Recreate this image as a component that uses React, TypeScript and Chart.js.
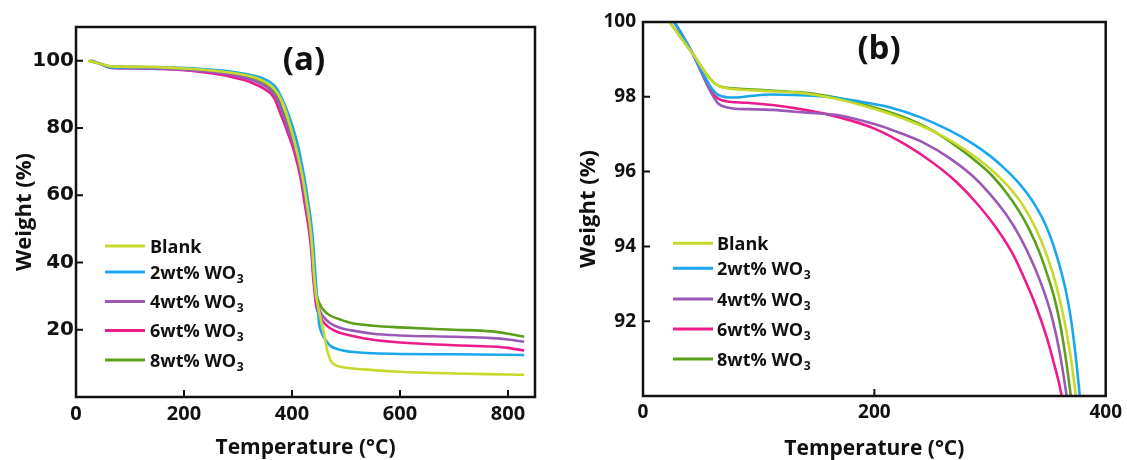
import React, { useEffect, useRef } from 'react';
import { Chart, registerables } from 'chart.js';

Chart.register(...registerables);

// ---------------- data ----------------
const seriesNames = ['Blank', '2wt% WO', '4wt% WO', '6wt% WO', '8wt% WO'];
const seriesSubs = ['', '3', '3', '3', '3'];
const seriesColors = ['#c8d92b', '#1aa7ec', '#9b59b6', '#ec1c8c', '#5b9f1a'];

const blankT = [23, 30, 43, 55, 60, 65, 72, 80, 90, 110, 130, 150, 170, 190, 210, 230, 256, 280, 300, 315, 328, 340, 348, 356, 363, 369, 373, 377, 385, 395, 409, 420, 428, 434, 438, 441, 444, 447, 452, 458, 465, 471, 480, 490, 500, 550, 600, 700, 800, 830];
const blankW = [100, 99.7, 99.15, 98.6, 98.42, 98.3, 98.23, 98.2, 98.18, 98.15, 98.12, 98.05, 97.93, 97.77, 97.58, 97.36, 97.0, 96.55, 96.08, 95.63, 95.12, 94.45, 93.85, 93.1, 92.2, 91.2, 90.3, 89.3, 86.5, 81.5, 73, 65, 57, 50, 43, 36, 31, 28, 24, 20, 14, 11, 9.5, 9, 8.7, 8, 7.5, 7, 6.7, 6.6];

const wo2T = [27, 33, 43, 55, 60, 65, 72, 80, 95, 110, 130, 150, 170, 190, 213, 240, 265, 285, 300, 312, 323, 332, 340, 348, 354, 360, 366, 370, 373, 377, 382, 390, 400, 412, 422, 430, 436, 440, 443, 446, 448, 450, 455, 462, 471, 490, 520, 550, 600, 700, 830];
const wo2W = [100, 99.7, 99.15, 98.45, 98.2, 98.05, 97.99, 97.98, 98.03, 98.06, 98.05, 98.02, 97.96, 97.86, 97.72, 97.45, 97.1, 96.75, 96.42, 96.1, 95.76, 95.42, 95.05, 94.58, 94.1, 93.5, 92.75, 92.05, 91.35, 90.2, 88.5, 85.5, 81, 74, 66, 58, 51, 44, 37, 30, 26, 22, 19, 17, 15.2, 14, 13.3, 13, 12.8, 12.7, 12.5];

const wo4T = [27, 33, 43, 55, 60, 65, 72, 80, 90, 112, 140, 170, 200, 220, 242, 265, 285, 300, 314, 326, 337, 346, 354, 360, 366, 372, 382, 393, 407, 418, 426, 433, 437, 440, 443, 446, 452, 458, 470, 490, 510, 550, 600, 700, 770, 800, 830];
const wo4W = [100, 99.7, 99.15, 98.35, 98.05, 97.82, 97.72, 97.68, 97.67, 97.65, 97.58, 97.5, 97.27, 97.06, 96.78, 96.36, 95.88, 95.4, 94.85, 94.25, 93.55, 92.85, 92.05, 91.2, 90.05, 88.7, 84.5, 79.5, 73, 65, 57, 50, 43, 36, 31, 28.5, 25.5, 23.9, 22, 20.5, 19.8, 18.8, 18.3, 17.9, 17.5, 17.1, 16.4];

const wo6T = [27, 33, 43, 55, 60, 65, 72, 90, 112, 140, 170, 200, 227, 250, 271, 290, 308, 320, 331, 340, 348.5, 355, 361.5, 368, 378, 390, 404, 416, 424, 431, 436, 439, 442, 445, 452, 458, 470, 490, 510, 550, 600, 700, 770, 800, 830];
const wo6W = [100, 99.7, 99.15, 98.38, 98.1, 97.95, 97.88, 97.84, 97.78, 97.65, 97.45, 97.15, 96.72, 96.25, 95.72, 95.1, 94.38, 93.78, 93.05, 92.38, 91.62, 90.9, 90.07, 88.6, 84.5, 79.5, 73, 65, 57, 50, 43, 36, 31, 27, 24, 22.3, 20.5, 19, 18.2, 17, 16.2, 15.4, 15, 14.6, 13.8];

const wo8T = [23, 30, 43, 55, 60, 65, 72, 80, 90, 110, 130, 150, 170, 190, 210, 230, 250, 270, 285, 300, 313, 325, 334, 343, 350, 357, 363, 369, 373, 384, 395, 409, 420, 428, 434, 438, 441, 444, 447, 452, 458, 470, 490, 510, 550, 600, 700, 770, 800, 830];
const wo8W = [100, 99.7, 99.15, 98.6, 98.42, 98.3, 98.24, 98.22, 98.2, 98.17, 98.13, 98.07, 97.96, 97.8, 97.62, 97.4, 97.1, 96.7, 96.35, 95.95, 95.48, 94.95, 94.45, 93.82, 93.2, 92.45, 91.5, 90.2, 89.1, 84.5, 79.5, 73, 65, 57, 50, 43, 36, 32, 29.5, 27.5, 25.9, 24.3, 23, 22, 21.2, 20.7, 20, 19.5, 18.8, 17.9];

const seriesT = [blankT, wo2T, wo4T, wo6T, wo8T];
const seriesW = [blankW, wo2W, wo4W, wo6W, wo8W];

const xTicksA = [0, 200, 400, 600, 800];
const yTicksA = [20, 40, 60, 80, 100];
const xTicksB = [0, 200, 400];
const yTicksB = [92, 94, 96, 98, 100];

const xTitle = 'Temperature (°C)';
const yTitle = 'Weight (%)';

// ---------------- layout ----------------
type PanelCfg = {
  label: string;
  width: number;
  xMin: number; xMax: number; yMin: number; yMax: number;
  xTicks: number[]; yTicks: number[];
  padRight: number; padTop: number; yAxisW: number; xAxisH: number;
  yTickFont: any; xTickFont: any; yTickPad: number; xTickPad: number;
  labelPos: [number, number];
  xTitleY: number; yTitleX: number; yTitleSize: number; xTitleSize: number;
  legendLineX: [number, number]; legendTextX: number; legendRows: number[];
};

const TXT = "'Open Sans', 'Liberation Sans', sans-serif";

const panelA: PanelCfg = {
  label: '(a)', width: 560,
  xMin: 0, xMax: 850, yMin: 0, yMax: 110,
  xTicks: xTicksA, yTicks: yTicksA,
  padRight: 25, padTop: 27, yAxisW: 76, xAxisH: 63,
  yTickFont: { family: "'DejaVu Sans'", size: 20, weight: 'bold' },
  xTickFont: { family: TXT, size: 20, weight: 'bold' },
  yTickPad: 2, xTickPad: 5,
  labelPos: [304, 61],
  xTitleY: 454, yTitleX: 31, yTitleSize: 22, xTitleSize: 21,
  legendLineX: [105, 145], legendTextX: 150, legendRows: [246, 272, 301.5, 330.5, 360],
};

const panelB: PanelCfg = {
  label: '(b)', width: 567,
  xMin: 0, xMax: 400, yMin: 90, yMax: 100,
  xTicks: xTicksB, yTicks: yTicksB,
  padRight: 21, padTop: 22, yAxisW: 83, xAxisH: 64,
  yTickFont: { family: TXT, size: 19, weight: 'bold' },
  xTickFont: { family: TXT, size: 19, weight: 'bold' },
  yTickPad: 7, xTickPad: 5,
  labelPos: [319, 50],
  xTitleY: 455, yTitleX: 35, yTitleSize: 22, xTitleSize: 21,
  legendLineX: [113, 153], legendTextX: 157, legendRows: [243.3, 268.3, 299, 329, 359],
};

function decorPlugin(p: PanelCfg) {
  return {
    id: 'decor',
    afterDatasetsDraw(chart: any) {
      const { ctx, chartArea } = chart;
      const { left, right, top, bottom } = chartArea;
      const xs = chart.scales.x;
      const ys = chart.scales.y;
      ctx.save();
      ctx.strokeStyle = '#111';
      ctx.lineCap = 'butt';
      ctx.lineWidth = 2;
      ctx.beginPath();
      p.xTicks.forEach((v) => {
        const px = xs.getPixelForValue(v);
        if (px > left + 3 && px < right - 3) {
          ctx.moveTo(px, bottom);
          ctx.lineTo(px, bottom - 7);
        }
      });
      p.yTicks.forEach((v) => {
        const py = ys.getPixelForValue(v);
        if (py > top + 3 && py < bottom - 3) {
          ctx.moveTo(left, py);
          ctx.lineTo(left + 7, py);
        }
      });
      ctx.stroke();
      ctx.lineWidth = 2.5;
      ctx.strokeRect(left, top, right - left, bottom - top);

      ctx.fillStyle = '#111';
      // panel label
      ctx.font = `bold 33px ${TXT}`;
      ctx.textAlign = 'center';
      ctx.textBaseline = 'middle';
      ctx.fillText(p.label, p.labelPos[0], p.labelPos[1]);
      // x title
      ctx.font = `bold ${p.xTitleSize}px ${TXT}`;
      ctx.textBaseline = 'alphabetic';
      ctx.fillText(xTitle, (left + right) / 2, p.xTitleY);
      // y title
      ctx.save();
      ctx.translate(p.yTitleX, (top + bottom) / 2);
      ctx.rotate(-Math.PI / 2);
      ctx.font = `bold ${p.yTitleSize}px ${TXT}`;
      ctx.fillText(yTitle, 0, 0);
      ctx.restore();

      // legend
      ctx.textAlign = 'left';
      seriesNames.forEach((name, i) => {
        const y = p.legendRows[i];
        ctx.strokeStyle = seriesColors[i];
        ctx.lineWidth = 3;
        ctx.beginPath();
        ctx.moveTo(p.legendLineX[0], y);
        ctx.lineTo(p.legendLineX[1], y);
        ctx.stroke();
        ctx.fillStyle = '#111';
        ctx.font = `bold 18px ${TXT}`;
        ctx.fillText(name, p.legendTextX, y + 6.8);
        if (seriesSubs[i]) {
          const w = ctx.measureText(name).width;
          ctx.font = `bold 12px ${TXT}`;
          ctx.fillText(seriesSubs[i], p.legendTextX + w + 0.5, y + 10.5);
        }
      });
      ctx.restore();
    },
  };
}

function buildChart(canvas: HTMLCanvasElement, p: PanelCfg) {
  const datasets = seriesNames.map((name, i) => ({
    label: name + seriesSubs[i],
    data: seriesT[i].map((t, j) => ({ x: t, y: seriesW[i][j] })),
    borderColor: seriesColors[i],
    backgroundColor: seriesColors[i],
    borderWidth: 2.6,
    pointRadius: 0,
    fill: false,
    cubicInterpolationMode: 'monotone' as const,
  }));
  return new Chart(canvas, {
    type: 'line',
    data: { datasets },
    options: {
      animation: false,
      responsive: false,
      maintainAspectRatio: false,
      devicePixelRatio: 1,
      events: [],
      layout: { padding: { left: 0, right: p.padRight, top: p.padTop, bottom: 0 } },
      plugins: { legend: { display: false }, tooltip: { enabled: false }, title: { display: false } },
      scales: {
        x: {
          type: 'linear',
          min: p.xMin,
          max: p.xMax,
          afterBuildTicks: (s: any) => { s.ticks = p.xTicks.map((v) => ({ value: v })); },
          afterFit: (s: any) => { s.height = p.xAxisH; },
          grid: { display: false, drawTicks: false },
          border: { display: false },
          ticks: { padding: p.xTickPad, font: p.xTickFont, color: '#111', maxRotation: 0, autoSkip: false },
        },
        y: {
          type: 'linear',
          min: p.yMin,
          max: p.yMax,
          afterBuildTicks: (s: any) => { s.ticks = p.yTicks.map((v) => ({ value: v })); },
          afterFit: (s: any) => { s.width = p.yAxisW; },
          grid: { display: false, drawTicks: false },
          border: { display: false },
          ticks: { padding: p.yTickPad, font: p.yTickFont, color: '#111', autoSkip: false },
        },
      },
    },
    plugins: [decorPlugin(p)],
  } as any);
}

export default function App() {
  const refA = useRef<HTMLCanvasElement | null>(null);
  const refB = useRef<HTMLCanvasElement | null>(null);

  useEffect(() => {
    const a = refA.current ? buildChart(refA.current, panelA) : null;
    const b = refB.current ? buildChart(refB.current, panelB) : null;
    return () => {
      a && a.destroy();
      b && b.destroy();
    };
  }, []);

  return (
    <div style={{ position: 'absolute', left: 0, top: 0, width: 1127, height: 460, background: '#fff' }}>
      <canvas ref={refA} width={560} height={460} style={{ position: 'absolute', left: 0, top: 0, width: 560, height: 460 }} />
      <canvas ref={refB} width={567} height={460} style={{ position: 'absolute', left: 560, top: 0, width: 567, height: 460 }} />
    </div>
  );
}
